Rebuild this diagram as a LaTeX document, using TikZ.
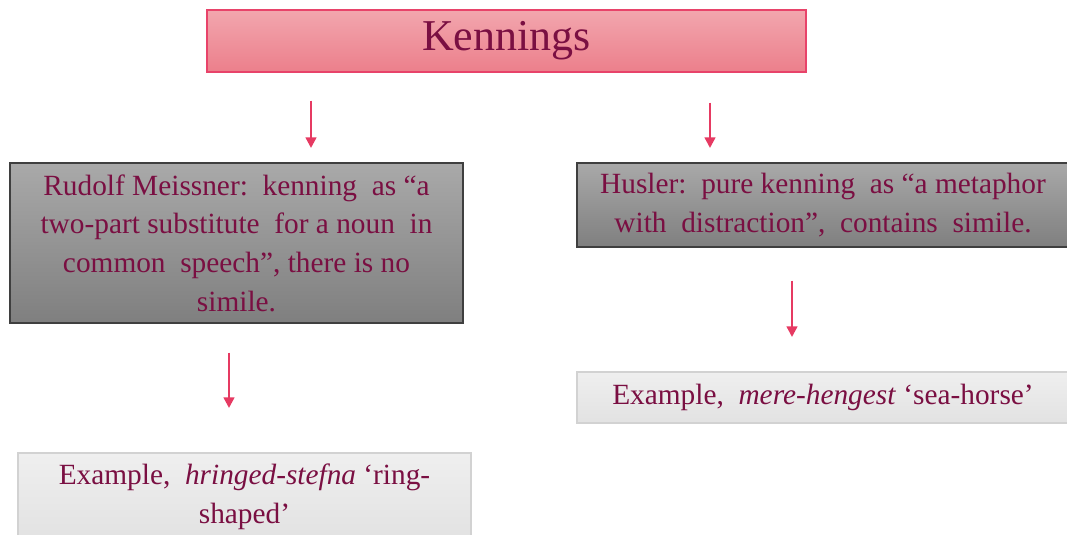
\documentclass[tikz,border=0pt]{standalone}
\usepackage{fontspec}
\setmainfont{Liberation Serif}
\usetikzlibrary{arrows.meta}
\definecolor{txt}{HTML}{7A0F42}
\definecolor{pinktop}{HTML}{F2A6AE}
\definecolor{pinkbot}{HTML}{EC7F8B}
\definecolor{pinkline}{HTML}{E8436A}
\definecolor{graytop}{HTML}{A9A9A9}
\definecolor{graybot}{HTML}{7F7F7F}
\definecolor{grayline}{HTML}{3F3F3F}
\definecolor{lighttop}{HTML}{EFEFEF}
\definecolor{lightbot}{HTML}{E2E2E2}
\definecolor{lightline}{HTML}{D2D2D2}
\definecolor{arrowred}{HTML}{E63A62}
\begin{document}
\begin{tikzpicture}[x=0.75pt,y=-0.75pt,
  box/.style={rectangle, inner sep=0pt, align=center, text=txt,
    font=\fontsize{22}{29}\selectfont},
  titlebox/.style={box, draw=pinkline, line width=1pt, top color=pinktop, bottom color=pinkbot,
    font=\fontsize{33}{38}\selectfont},
  darkbox/.style={box, draw=grayline, line width=1pt, top color=graytop, bottom color=graybot},
  lightbox/.style={box, draw=lightline, line width=0.8pt, top color=lighttop, bottom color=lightbot},
  arr/.style={draw=arrowred, line width=1.8pt, -{Triangle[length=8pt,width=8pt]}}]
\useasboundingbox (0,0) rectangle (1067,535);
\clip (0,0) rectangle (1067,535);
\node[titlebox, minimum width=599*0.75pt, minimum height=62*0.75pt] (kenn) at (506.5,41) {Kennings};
\node[darkbox, minimum width=453*0.75pt, minimum height=160*0.75pt] (meiss) at (236.5,243)
  {Rudolf Meissner:\ \ kenning\ \ as ``a\\two-part substitute\ \ for\ a noun\ \ in\\common\ \ speech'', there is no\\simile.};
\node[darkbox, minimum width=492*0.75pt, minimum height=84*0.75pt] (husl) at (823,205)
  {Husler:\ \ pure kenning\ \ as ``a metaphor\\with\ \ distraction'',\ \ contains\ \ simile.};
\node[lightbox, minimum width=492*0.75pt, minimum height=51*0.75pt] (exr) at (823,397.5)
  {Example,\ \ \textit{mere-hengest} `sea-horse'};
\node[lightbox, minimum width=453*0.75pt, minimum height=87*0.75pt] (exl) at (244.5,496.5)
  {Example,\ \ \textit{hringed-stefna} `ring-\\shaped'};
\coordinate (a1) at (311,163);
\coordinate (a2) at (710,163);
\coordinate (a3) at (229,453);
\coordinate (a4) at (792,372);
\draw[arr, shorten <=28*0.75pt, shorten >=15*0.75pt] (kenn.south -| a1) -- (a1);
\draw[arr, shorten <=30*0.75pt, shorten >=15*0.75pt] (kenn.south -| a2) -- (a2);
\draw[arr, shorten <=29*0.75pt, shorten >=45*0.75pt] (meiss.south -| a3) -- (a3);
\draw[arr, shorten <=33*0.75pt, shorten >=35*0.75pt] (husl.south -| a4) -- (a4);
\end{tikzpicture}
\end{document}
